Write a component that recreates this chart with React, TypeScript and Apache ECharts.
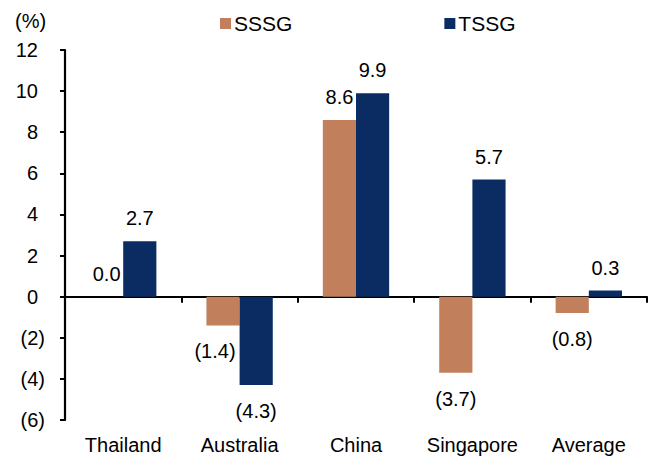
import React, { useEffect, useRef } from "react";
import * as echarts from "echarts";

const categories = ["Thailand", "Australia", "China", "Singapore", "Average"];
const sssg = [0.0, -1.4, 8.6, -3.7, -0.8];
const tssg = [2.7, -4.3, 9.9, 5.7, 0.3];
const seriesNames = ["SSSG", "TSSG"];
const unitLabel = "(%)";

const FONT = "Arial, 'Liberation Sans', Helvetica, sans-serif";
const FS = 20;

function fmtNum(v: number, digits: number) {
  const s = Math.abs(v).toFixed(digits);
  return v < 0 ? `(${s})` : s;
}

function makeData(values: number[], offsets: Record<number, number[]>) {
  return values.map((v, i) => ({
    value: v,
    label: {
      position: v < 0 ? "bottom" : "top",
      distance: v < 0 ? 16 : 13,
      offset: offsets[i] || [0, 0],
    },
  }));
}

export default function App() {
  const ref = useRef<HTMLDivElement>(null);
  useEffect(() => {
    if (!ref.current) return;
    const chart = echarts.init(ref.current, null, { renderer: "svg" });
    const labelCommon = {
      show: true,
      fontFamily: FONT,
      fontSize: FS,
      color: "#000",
      formatter: (p: any) => fmtNum(p.value, 1),
    };
    chart.setOption({
      animation: false,
      backgroundColor: "#fff",
      textStyle: { fontFamily: FONT },
      legend: {
        data: seriesNames,
        left: 215,
        top: 8,
        itemWidth: 11,
        itemHeight: 11,
        itemGap: 152,
        icon: "rect",
        textStyle: { fontFamily: FONT, fontSize: 21, color: "#000", padding: [0, 0, 0, -2] },
      },
      graphic: [
        {
          type: "text",
          left: 15,
          top: 11,
          style: { text: unitLabel, font: `${FS}px ${FONT}`, fill: "#000" },
        },
      ],
      grid: { left: 65, right: 12, top: 50, bottom: 39, containLabel: false },
      xAxis: [
        {
          type: "category",
          data: categories,
          position: "bottom",
          axisLine: { show: true, onZero: true, lineStyle: { color: "#000", width: 2 } },
          axisTick: { show: true, interval: 0, length: 6, lineStyle: { color: "#000", width: 2 } },
          axisLabel: { show: false },
        },
        {
          type: "category",
          data: categories,
          position: "bottom",
          axisLine: { show: false, onZero: false },
          axisTick: { show: false },
          axisLabel: { interval: 0, fontFamily: FONT, fontSize: FS, color: "#000", margin: 15 },
        },
      ],
      yAxis: {
        type: "value",
        min: -6,
        max: 12,
        interval: 2,
        splitLine: { show: false },
        axisLine: { show: true, lineStyle: { color: "#000", width: 2.2 } },
        axisTick: { show: true, length: 5, lineStyle: { color: "#000", width: 2 } },
        axisLabel: {
          margin: 20,
          fontFamily: FONT,
          fontSize: FS,
          color: "#000",
          formatter: (v: number) => (v < 0 ? `(${Math.abs(v)})` : `{p|${v}}`),
          rich: { p: { fontFamily: FONT, fontSize: FS, color: "#000", padding: [0, 7, 0, 0] } },
        },
      },
      series: [
        {
          name: seriesNames[0],
          type: "bar",
          xAxisIndex: 0,
          data: makeData(sssg, { 1: [-8, 0] }),
          itemStyle: { color: "#C17F5B" },
          barGap: "0%",
          barCategoryGap: "43%",
          label: labelCommon,
        },
        {
          name: seriesNames[1],
          type: "bar",
          xAxisIndex: 0,
          data: makeData(tssg, {}),
          itemStyle: { color: "#0A2C62" },
          barGap: "0%",
          barCategoryGap: "43%",
          label: labelCommon,
        },
      ],
    });
    return () => chart.dispose();
  }, []);
  return <div ref={ref} style={{ width: 659, height: 459, position: "absolute", left: 0, top: 0 }} />;
}
